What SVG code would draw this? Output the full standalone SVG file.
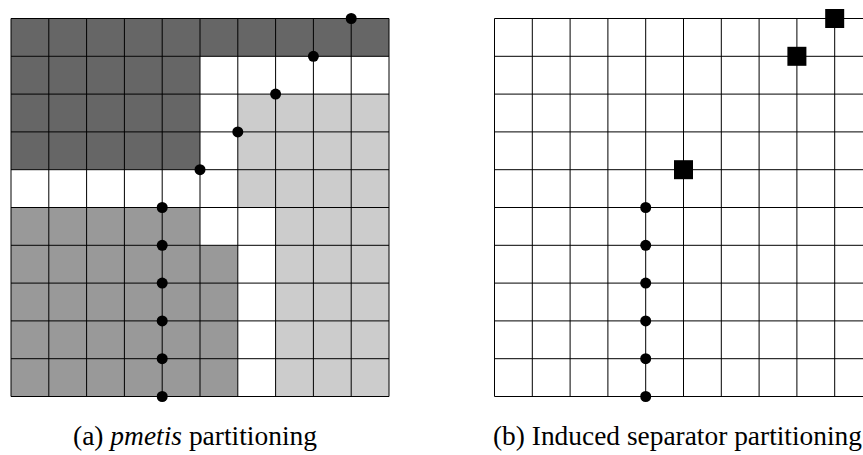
<svg xmlns="http://www.w3.org/2000/svg" width="863" height="455" viewBox="0 0 863 455">
<style>
.grid{fill:none;stroke:#000;stroke-width:1}
.dark{fill:#666666}
.mid{fill:#999999}
.light{fill:#cccccc}
.dot{fill:#000}
.cap{font-family:"Liberation Serif","DejaVu Serif",serif;font-size:27px;fill:#000}
</style>
<defs>
<circle id="d" r="5.5"/>
<rect id="s" x="-9.5" y="-9.5" width="19" height="19"/>
</defs>
<g id="left-partition">
<rect class="dark" x="11" y="18.5" width="378" height="37.8"/>
<rect class="dark" x="11" y="56.3" width="189" height="113.4"/>
<rect class="light" x="237.8" y="94.1" width="151.2" height="113.4"/>
<rect class="light" x="275.6" y="207.5" width="113.4" height="189"/>
<rect class="mid" x="11" y="207.5" width="189" height="37.8"/>
<rect class="mid" x="11" y="245.3" width="226.8" height="151.2"/>
<path class="grid" d="M11 18.5V396.5M48.8 18.5V396.5M86.6 18.5V396.5M124.4 18.5V396.5M162.2 18.5V396.5M200 18.5V396.5M237.8 18.5V396.5M275.6 18.5V396.5M313.4 18.5V396.5M351.2 18.5V396.5M389 18.5V396.5M11 18.5H389M11 56.3H389M11 94.1H389M11 131.9H389M11 169.7H389M11 207.5H389M11 245.3H389M11 283.1H389M11 320.9H389M11 358.7H389M11 396.5H389"/>
</g>
<g id="right-grid">
<path class="grid" d="M494.5 18.5V396.5M532.3 18.5V396.5M570.1 18.5V396.5M607.9 18.5V396.5M645.7 18.5V396.5M683.5 18.5V396.5M721.3 18.5V396.5M759.1 18.5V396.5M796.9 18.5V396.5M834.7 18.5V396.5M872.5 18.5V396.5M494.5 18.5H872.5M494.5 56.3H872.5M494.5 94.1H872.5M494.5 131.9H872.5M494.5 169.7H872.5M494.5 207.5H872.5M494.5 245.3H872.5M494.5 283.1H872.5M494.5 320.9H872.5M494.5 358.7H872.5M494.5 396.5H872.5"/>
</g>
<g id="connectors"></g>
<g id="left-separator" class="dot">
<g id="a1"><use href="#d" x="351.2" y="18.5"/></g>
<g id="a2"><use href="#d" x="313.4" y="56.3"/></g>
<g id="a3"><use href="#d" x="275.6" y="94.1"/></g>
<g id="a4"><use href="#d" x="237.8" y="131.9"/></g>
<g id="a5"><use href="#d" x="200" y="169.7"/></g>
<g id="a6"><use href="#d" x="162.2" y="207.5"/></g>
<g id="a7"><use href="#d" x="162.2" y="245.3"/></g>
<g id="a8"><use href="#d" x="162.2" y="283.1"/></g>
<g id="a9"><use href="#d" x="162.2" y="320.9"/></g>
<g id="a10"><use href="#d" x="162.2" y="358.7"/></g>
<g id="a11"><use href="#d" x="162.2" y="396.5"/></g>
</g>
<g id="right-separator" class="dot">
<g id="b1"><use href="#s" x="834.7" y="18.5"/></g>
<g id="b2"><use href="#s" x="796.9" y="56.3"/></g>
<g id="b3"><use href="#s" x="683.5" y="169.7"/></g>
<g id="b4"><use href="#d" x="645.7" y="207.5"/></g>
<g id="b5"><use href="#d" x="645.7" y="245.3"/></g>
<g id="b6"><use href="#d" x="645.7" y="283.1"/></g>
<g id="b7"><use href="#d" x="645.7" y="320.9"/></g>
<g id="b8"><use href="#d" x="645.7" y="358.7"/></g>
<g id="b9"><use href="#d" x="645.7" y="396.5"/></g>
</g>
<g id="captions">
<text class="cap" x="73" y="445" textLength="244" lengthAdjust="spacingAndGlyphs">(a) <tspan font-style="italic">pmetis</tspan> partitioning</text>
<text class="cap" x="493" y="445" textLength="369" lengthAdjust="spacingAndGlyphs">(b) Induced separator partitioning</text>
</g>
</svg>
